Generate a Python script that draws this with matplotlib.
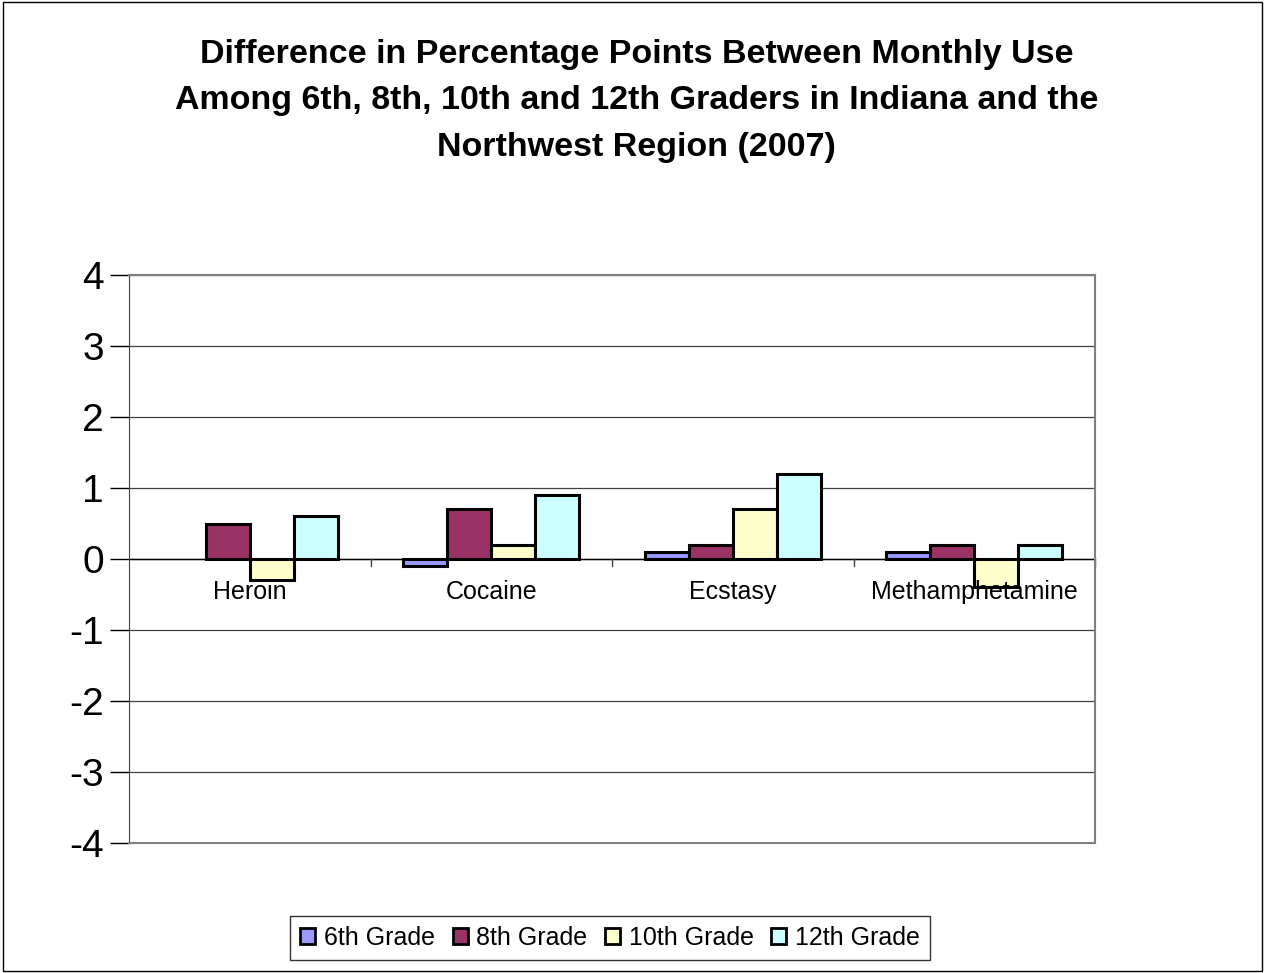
import numpy as np
import matplotlib.pyplot as plt
from matplotlib.patches import Rectangle, Patch

plt.rcParams['font.family'] = ['Liberation Sans', 'DejaVu Sans']
plt.rcParams['axes.unicode_minus'] = False

# data
categories = ["Heroin", "Cocaine", "Ecstasy", "Methamphetamine"]
series_names = ["6th Grade", "8th Grade", "10th Grade", "12th Grade"]
grade6 = [0.0, -0.1, 0.1, 0.1]
grade8 = [0.5, 0.7, 0.2, 0.2]
grade10 = [-0.3, 0.2, 0.7, -0.4]
grade12 = [0.6, 0.9, 1.2, 0.2]
colors = ["#9999FF", "#993366", "#FFFFCC", "#CCFFFF"]

fig = plt.figure(figsize=(12.65, 9.73), dpi=100)
fig.add_artist(Rectangle((0.002, 0.002), 0.996, 0.996, transform=fig.transFigure,
                         fill=False, edgecolor="black", linewidth=1))

ax = fig.add_axes([129 / 1265, 1 - 843 / 973, (1095 - 129) / 1265, (843 - 275) / 973])

x = np.arange(len(categories))
width = 0.182
all_series = [grade6, grade8, grade10, grade12]
for i, (vals, c) in enumerate(zip(all_series, colors)):
    bars = ax.bar(x + (i - 1.5) * width, vals, width, color=c, edgecolor="black",
                  linewidth=2.2, zorder=3)
    # zero-height bars leave no outline
    for b, v in zip(bars, vals):
        if v == 0:
            b.set_visible(False)

ax.set_xlim(-0.5, len(categories) - 0.5)
ax.set_ylim(-4, 4)
ax.set_yticks(range(-4, 5))
ax.tick_params(axis="y", labelsize=28, length=14, width=1, direction="out", pad=4)
ax.grid(axis="y", color="#404040", linewidth=0.9, zorder=0)

# category axis crosses at zero
ax.set_xticks([])
ax.axhline(0, color="black", linewidth=1, zorder=2)
for b in np.arange(0.5, len(categories) - 0.4, 1.0):
    ax.plot([b, b], [0, -0.1], color="#404040", linewidth=1, zorder=2, clip_on=False)
for xi, name in zip(x, categories):
    ax.text(xi, -0.3, name, ha="center", va="top", fontsize=18)

for side in ["top", "right", "bottom"]:
    ax.spines[side].set_color("#808080")
    ax.spines[side].set_linewidth(1.5)
ax.spines["left"].set_color("#404040")

fig.text(0.503, 1 - 101 / 973,
         "Difference in Percentage Points Between Monthly Use\n"
         "Among 6th, 8th, 10th and 12th Graders in Indiana and the\n"
         "Northwest Region (2007)",
         ha="center", va="center", fontsize=24.5, fontweight="bold", linespacing=1.65)

handles = [Patch(facecolor=c, edgecolor="black", linewidth=2) for c in colors]
leg = fig.legend(handles, series_names, loc="center",
                 bbox_to_anchor=(610 / 1265, 1 - 938 / 973), ncol=4,
                 fontsize=18, frameon=True, fancybox=False, edgecolor="black",
                 handlelength=0.6, handleheight=0.6, handletextpad=0.35,
                 columnspacing=0.7, borderpad=0.4)
leg.get_frame().set_linewidth(1)

fig.savefig("out.png", dpi=100)
